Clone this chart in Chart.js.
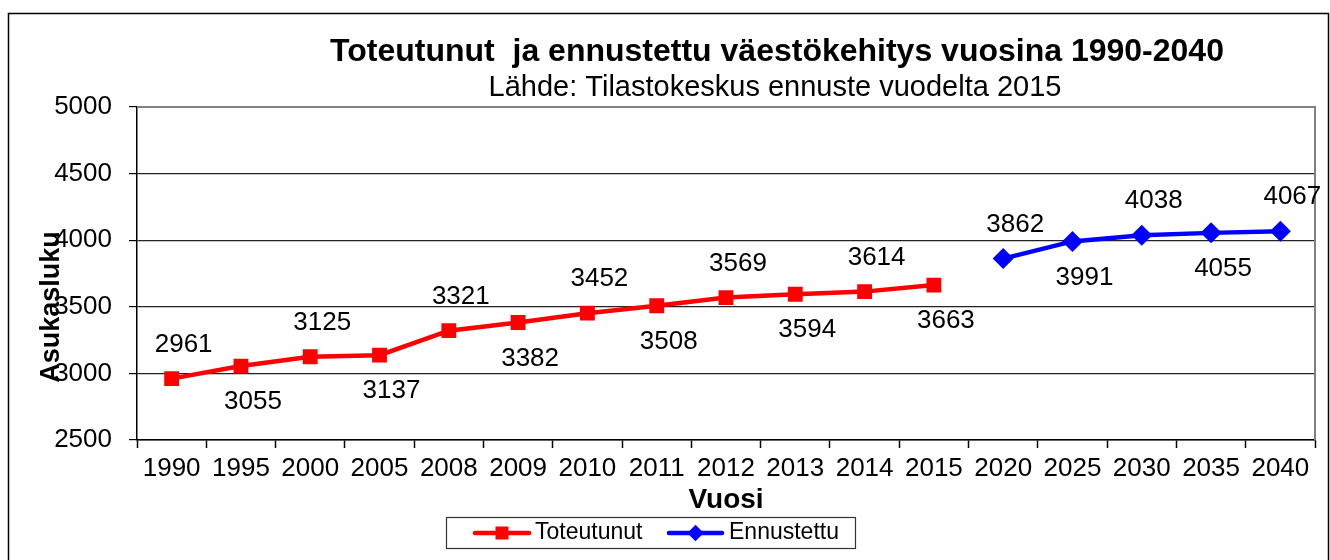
<!DOCTYPE html>
<html>
<head>
<meta charset="utf-8">
<script src="https://cdn.jsdelivr.net/npm/chart.js@4/dist/chart.umd.min.js"></script>
<style>
  html, body { margin: 0; padding: 0; background: #fff; }
  #wrap { width: 1330px; height: 560px; position: relative; }
</style>
</head>
<body>
<div id="wrap"><canvas id="c" width="1330" height="560"></canvas></div>
<script>
const titleText = "Toteutunut  ja ennustettu väestökehitys vuosina 1990-2040";
const subtitleText = "Lähde: Tilastokeskus ennuste vuodelta 2015";
const yAxisTitle = "Asukasluku";
const xAxisTitle = "Vuosi";
const categories = ["1990","1995","2000","2005","2008","2009","2010","2011","2012","2013","2014","2015","2020","2025","2030","2035","2040"];
const toteutunutLabel = "Toteutunut";
const toteutunut = [2961, 3055, 3125, 3137, 3321, 3382, 3452, 3508, 3569, 3594, 3614, 3663, null, null, null, null, null];
const ennustettuLabel = "Ennustettu";
const ennustettu = [null, null, null, null, null, null, null, null, null, null, null, null, 3862, 3991, 4038, 4055, 4067];
const yMin = 2500, yMax = 5000, yStep = 500;

const FONT = "'Liberation Sans', Arial, sans-serif";

const decorPlugin = {
  id: 'decor',
  beforeDraw(chart) {
    const ctx = chart.ctx;
    ctx.save();
    ctx.fillStyle = '#fff';
    ctx.fillRect(0, 0, chart.width, chart.height);
    ctx.strokeStyle = '#000';
    ctx.lineWidth = 1.5;
    ctx.strokeRect(8.5, 13.5, 1320, 560);
    ctx.restore();
  },
  afterDatasetsDraw(chart) {
    const ctx = chart.ctx;
    const a = chart.chartArea;
    ctx.save();
    // plot area border (top/right gray)
    ctx.strokeStyle = '#808080';
    ctx.lineWidth = 2;
    ctx.beginPath();
    ctx.moveTo(a.left, a.top);
    ctx.lineTo(a.right, a.top);
    ctx.lineTo(a.right, a.bottom);
    ctx.stroke();

    // data labels
    ctx.font = '26px ' + FONT;
    ctx.fillStyle = '#000';
    ctx.textAlign = 'center';
    ctx.textBaseline = 'middle';
    chart.data.datasets.forEach((ds, di) => {
      const meta = chart.getDatasetMeta(di);
      let k = 0;
      meta.data.forEach((pt, i) => {
        const v = ds.data[i];
        if (v === null || v === undefined) return;
        const above = (k % 2 === 0);
        ctx.fillText(String(v), pt.x + 12, pt.y + (above ? -34 : 36));
        k++;
      });
    });

    // titles
    ctx.font = 'bold 32px ' + FONT;
    ctx.fillText(titleText, 777, 52);
    ctx.font = '29px ' + FONT;
    ctx.fillText(subtitleText, 775, 88);

    // y-axis title
    ctx.save();
    ctx.translate(52, 307);
    ctx.rotate(-Math.PI / 2);
    ctx.font = 'bold 27px ' + FONT;
    ctx.fillText(yAxisTitle, 0, 0);
    ctx.restore();

    // legend
    const lx = 446, ly = 517, lw = 409, lh = 31;
    ctx.strokeStyle = '#333';
    ctx.lineWidth = 1.2;
    ctx.strokeRect(lx + 0.5, ly + 0.5, lw, lh);
    const cy = ly + lh / 2 + 0.5;
    const items = [
      { ds: chart.data.datasets[0], x0: 475, x1: 529, tx: 535 },
      { ds: chart.data.datasets[1], x0: 669, x1: 722, tx: 729 }
    ];
    items.forEach(it => {
      ctx.strokeStyle = it.ds.borderColor;
      ctx.lineWidth = 4.5;
      ctx.lineCap = 'round';
      ctx.beginPath();
      ctx.moveTo(it.x0, cy);
      ctx.lineTo(it.x1, cy);
      ctx.stroke();
      Chart.helpers.drawPoint(ctx, {
        pointStyle: it.ds.pointStyle, radius: it.ds.pointStyle === 'rect' ? 6 : 5,
        rotation: 0, borderWidth: 1
      }, (it.x0 + it.x1) / 2, cy);
      ctx.fillStyle = it.ds.borderColor;
      ctx.fill();
      ctx.fillStyle = '#000';
      ctx.textAlign = 'left';
      ctx.font = '23px ' + FONT;
      ctx.fillText(it.ds.label, it.tx, cy);
    });
    ctx.restore();
  }
};

new Chart(document.getElementById('c'), {
  type: 'line',
  data: {
    labels: categories,
    datasets: [
      {
        label: toteutunutLabel,
        data: toteutunut,
        borderColor: '#ff0000',
        backgroundColor: '#ff0000',
        borderWidth: 4.5,
        pointStyle: 'rect',
        pointRadius: 10.5,
        pointHoverRadius: 10.5,
        pointBorderWidth: 0,
        tension: 0,
        spanGaps: false
      },
      {
        label: ennustettuLabel,
        data: ennustettu,
        borderColor: '#0000ff',
        backgroundColor: '#0000ff',
        borderWidth: 4.5,
        pointStyle: 'rectRot',
        pointRadius: 10.5,
        pointHoverRadius: 10.5,
        pointBorderWidth: 0,
        tension: 0,
        spanGaps: false
      }
    ]
  },
  options: {
    responsive: false,
    animation: false,
    devicePixelRatio: 1,
    layout: { padding: { top: 107, left: 0, right: 15, bottom: 43 } },
    plugins: {
      legend: { display: false },
      title: { display: false },
      tooltip: { enabled: false }
    },
    scales: {
      x: {
        type: 'category',
        offset: true,
        afterFit(scale) { scale.height = 77; },
        grid: {
          offset: true,
          drawOnChartArea: false,
          drawTicks: true,
          tickLength: 8,
          tickColor: '#000',
          tickWidth: 1.5
        },
        border: { display: true, color: '#000', width: 1.5 },
        ticks: {
          color: '#000',
          font: { family: FONT, size: 26 },
          padding: 5,
          maxRotation: 0,
          autoSkip: false
        },
        title: {
          display: true,
          text: xAxisTitle,
          color: '#000',
          font: { family: FONT, size: 28, weight: 'bold' },
          padding: 0
        }
      },
      y: {
        min: yMin,
        max: yMax,
        afterFit(scale) { scale.width = 137; },
        grid: {
          color: '#222',
          lineWidth: 1.2,
          drawTicks: true,
          tickLength: 8,
          tickColor: '#000'
        },
        border: { display: true, color: '#000', width: 1.5 },
        ticks: {
          stepSize: yStep,
          color: '#000',
          font: { family: FONT, size: 26 },
          padding: 17,
          callback: (v) => String(v)
        }
      }
    }
  },
  plugins: [decorPlugin]
});
</script>
</body>
</html>
